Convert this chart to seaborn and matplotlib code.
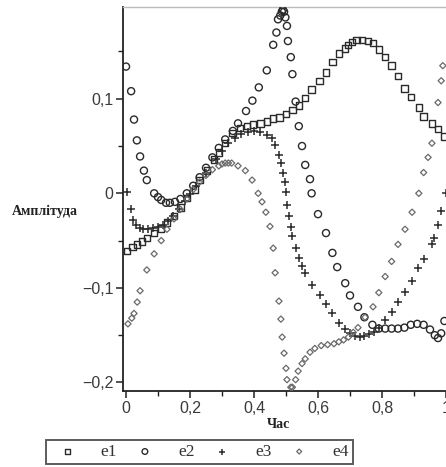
import matplotlib
matplotlib.use("Agg")
import matplotlib.pyplot as plt
import seaborn as sns
from matplotlib.ticker import FixedLocator, FixedFormatter

# ---------------- data ----------------
e1_x = [0.003, 0.02, 0.035, 0.05, 0.065, 0.088, 0.11, 0.128, 0.15, 0.17, 0.19, 0.215, 0.23, 0.253,
        0.275, 0.29, 0.31, 0.333, 0.356, 0.378, 0.397, 0.42, 0.44, 0.46, 0.48, 0.50, 0.52, 0.54,
        0.56, 0.58, 0.605, 0.625, 0.645, 0.666, 0.684, 0.694, 0.706, 0.72, 0.737, 0.757, 0.772,
        0.79, 0.81, 0.83, 0.85, 0.87, 0.89, 0.915, 0.93, 0.956, 0.975, 0.994]
e1_y = [-0.061, -0.057, -0.054, -0.051, -0.047, -0.042, -0.037, -0.031, -0.024, -0.015, -0.005,
        0.004, 0.014, 0.024, 0.036, 0.043, 0.053, 0.064, 0.069, 0.071, 0.073, 0.074, 0.076, 0.079,
        0.080, 0.084, 0.088, 0.093, 0.101, 0.110, 0.119, 0.128, 0.139, 0.148, 0.153, 0.157, 0.160,
        0.162, 0.162, 0.161, 0.159, 0.152, 0.144, 0.135, 0.124, 0.111, 0.102, 0.091, 0.081, 0.074,
        0.068, 0.060]

e2_x = [0.0, 0.016, 0.025, 0.034, 0.044, 0.056, 0.065, 0.088, 0.10, 0.11, 0.125, 0.137, 0.153,
        0.17, 0.19, 0.21, 0.23, 0.25, 0.27, 0.29, 0.31, 0.334, 0.35, 0.375, 0.395, 0.415, 0.44,
        0.46, 0.47, 0.475, 0.482, 0.487, 0.49, 0.494, 0.498, 0.503, 0.506, 0.515, 0.52, 0.53, 0.54,
        0.55, 0.56, 0.575, 0.58, 0.60, 0.625, 0.645, 0.66, 0.685, 0.70, 0.725, 0.745, 0.77, 0.79,
        0.81, 0.83, 0.85, 0.87, 0.89, 0.91, 0.93, 0.95, 0.965, 0.975, 0.985, 0.995]
e2_y = [0.134, 0.108, 0.078, 0.056, 0.039, 0.024, 0.014, 0.0, -0.004, -0.007, -0.010, -0.010,
        -0.009, -0.006, 0.0, 0.008, 0.017, 0.027, 0.038, 0.048, 0.057, 0.066, 0.074, 0.087, 0.098,
        0.112, 0.130, 0.157, 0.170, 0.184, 0.188, 0.192, 0.194, 0.192, 0.186, 0.177, 0.161, 0.144,
        0.126, 0.097, 0.071, 0.050, 0.030, 0.015, 0.0, -0.022, -0.042, -0.063, -0.078, -0.095,
        -0.108, -0.120, -0.131, -0.139, -0.143, -0.143, -0.143, -0.143, -0.142, -0.139, -0.138,
        -0.139, -0.144, -0.150, -0.153, -0.148, -0.135]

e3_x = [0.003, 0.015, 0.022, 0.03, 0.044, 0.053, 0.069, 0.084, 0.10, 0.116, 0.13, 0.147, 0.165,
        0.185, 0.2, 0.22, 0.25, 0.28, 0.3, 0.32, 0.34, 0.36, 0.38, 0.40, 0.42, 0.44, 0.456, 0.466,
        0.478, 0.484, 0.49, 0.497, 0.5, 0.503, 0.51, 0.515, 0.52, 0.53, 0.54, 0.55, 0.56, 0.58,
        0.605, 0.625, 0.645, 0.666, 0.684, 0.70, 0.715, 0.73, 0.745, 0.76, 0.775, 0.79, 0.81, 0.83,
        0.85, 0.872, 0.894, 0.913, 0.93, 0.956, 0.963, 0.975, 0.985, 1.0]
e3_y = [0.001, -0.017, -0.028, -0.034, -0.037, -0.038, -0.038, -0.037, -0.036, -0.033, -0.029,
        -0.024, -0.017, -0.008, -0.001, 0.008, 0.022, 0.036, 0.045, 0.053, 0.059, 0.063, 0.065,
        0.066, 0.065, 0.062, 0.058, 0.051, 0.041, 0.032, 0.022, 0.012, 0.001, -0.012, -0.024,
        -0.036, -0.045, -0.058, -0.068, -0.077, -0.084, -0.097, -0.107, -0.117, -0.127, -0.137,
        -0.143, -0.148, -0.151, -0.152, -0.151, -0.149, -0.147, -0.142, -0.134, -0.126, -0.115,
        -0.104, -0.093, -0.079, -0.069, -0.054, -0.047, -0.034, -0.019, 0.0]

e4_x = [0.006, 0.018, 0.025, 0.035, 0.044, 0.065, 0.088, 0.11, 0.128, 0.15, 0.17, 0.19, 0.21,
        0.23, 0.25, 0.27, 0.29, 0.30, 0.31, 0.32, 0.33, 0.35, 0.373, 0.394, 0.413, 0.425, 0.437,
        0.45, 0.46, 0.466, 0.478, 0.484, 0.488, 0.494, 0.5, 0.503, 0.515, 0.52, 0.53, 0.538, 0.55,
        0.56, 0.575, 0.59, 0.61, 0.63, 0.65, 0.665, 0.68, 0.695, 0.71, 0.725, 0.747, 0.772, 0.79,
        0.81, 0.83, 0.85, 0.872, 0.894, 0.915, 0.93, 0.944, 0.956, 0.975, 0.985, 0.99]
e4_y = [-0.138, -0.132, -0.127, -0.115, -0.103, -0.081, -0.064, -0.050, -0.038, -0.027, -0.017,
        -0.006, 0.004, 0.012, 0.019, 0.025, 0.029, 0.031, 0.032, 0.032, 0.032, 0.029, 0.024, 0.014,
        0.0, -0.009, -0.020, -0.035, -0.058, -0.084, -0.114, -0.133, -0.152, -0.169, -0.185,
        -0.197, -0.205, -0.205, -0.197, -0.188, -0.180, -0.175, -0.168, -0.164, -0.161, -0.160,
        -0.159, -0.157, -0.155, -0.152, -0.147, -0.142, -0.131, -0.120, -0.105, -0.088, -0.072,
        -0.054, -0.038, -0.020, 0.0, 0.022, 0.038, 0.053, 0.096, 0.119, 0.135]

series_names = ["e1", "e2", "e3", "e4"]
x_ticks = [0, 0.2, 0.4, 0.6, 0.8, 1.0]
x_tick_labels = ["0", "0,2", "0,4", "0,6", "0,8", "1"]
y_ticks = [-0.2, -0.1, 0.0, 0.1]
y_tick_labels = ["\u22120,2", "\u22120,1", "0", "0,1"]
x_label = "Час"
y_label = "Амплітуда"

# ---------------- style ----------------
sns.set_style("ticks")
plt.rcParams["font.family"] = ["Liberation Serif", "DejaVu Serif"]

W, H = 446, 467
fig = plt.figure(figsize=(W / 100, H / 100), dpi=100)
ax = fig.add_axes([123 / W, 1 - 391 / H, (W - 123) / W, (391 - 7) / H])

dark = "#2a2a2a"
gray = "#6a6a6a"
sns.scatterplot(x=e1_x, y=e1_y, ax=ax, marker="s", s=22, facecolor="none",
                edgecolor=dark, linewidth=1.0, label=series_names[0], zorder=3)
sns.scatterplot(x=e2_x, y=e2_y, ax=ax, marker="o", s=26, facecolor="none",
                edgecolor=dark, linewidth=1.0, label=series_names[1], zorder=3)
sns.scatterplot(x=e3_x, y=e3_y, ax=ax, marker="+", s=30, color=dark,
                linewidth=1.1, label=series_names[2], zorder=3)
sns.scatterplot(x=e4_x, y=e4_y, ax=ax, marker="D", s=10, facecolor="none",
                edgecolor=gray, linewidth=0.9, label=series_names[3], zorder=3)

ax.set_xlim(-0.0094, 1.0)
ax.set_ylim(-0.209, 0.197)

ax.xaxis.set_major_locator(FixedLocator(x_ticks))
ax.xaxis.set_major_formatter(FixedFormatter(x_tick_labels))
ax.xaxis.set_minor_locator(FixedLocator([0.1, 0.3, 0.5, 0.7, 0.9]))
ax.yaxis.set_major_locator(FixedLocator(y_ticks))
ax.yaxis.set_major_formatter(FixedFormatter(y_tick_labels))
ax.yaxis.set_minor_locator(FixedLocator([-0.15, -0.05, 0.05, 0.15]))

ax.tick_params(axis="both", which="major", direction="out", length=5, width=1.1,
               color="#222222", labelsize=11.5, labelcolor="#3a3a3a", pad=2)
ax.tick_params(axis="both", which="minor", direction="out", length=3.5, width=1.0,
               color="#222222")
for lab in ax.get_xticklabels() + ax.get_yticklabels():
    lab.set_family(["Liberation Sans Narrow", "Liberation Sans", "DejaVu Sans"])

for side in ["left", "bottom"]:
    ax.spines[side].set_color("#222222")
    ax.spines[side].set_linewidth(1.3)
ax.spines["top"].set_visible(True)
ax.spines["top"].set_color("#bbbbbb")
ax.spines["top"].set_linewidth(1.0)
ax.spines["right"].set_visible(False)
ax.set_xlabel("")
ax.set_ylabel("")

fig.text(12 / W, 1 - 211 / H, y_label, ha="left", va="center",
         fontsize=10, fontweight="bold", color="#222222")
fig.text(278 / W, 1 - 425 / H, x_label, ha="center", va="center",
         fontsize=10, fontweight="bold", color="#222222")

handles, labels = ax.get_legend_handles_labels()
ax.get_legend().remove()
leg = fig.legend(handles, labels, loc="center",
                 bbox_to_anchor=(46 / W, 1 - 465 / H, 307 / W, 26 / H),
                 mode="expand", ncol=4, frameon=True, fancybox=False,
                 borderaxespad=0, fontsize=12.5, markerscale=0.8,
                 handletextpad=0.9, columnspacing=1.0, borderpad=0.25)
leg.get_frame().set_edgecolor("#333333")
leg.get_frame().set_linewidth(1.4)
for t in leg.get_texts():
    t.set_color("#333333")

fig.savefig("out.png", dpi=100)
